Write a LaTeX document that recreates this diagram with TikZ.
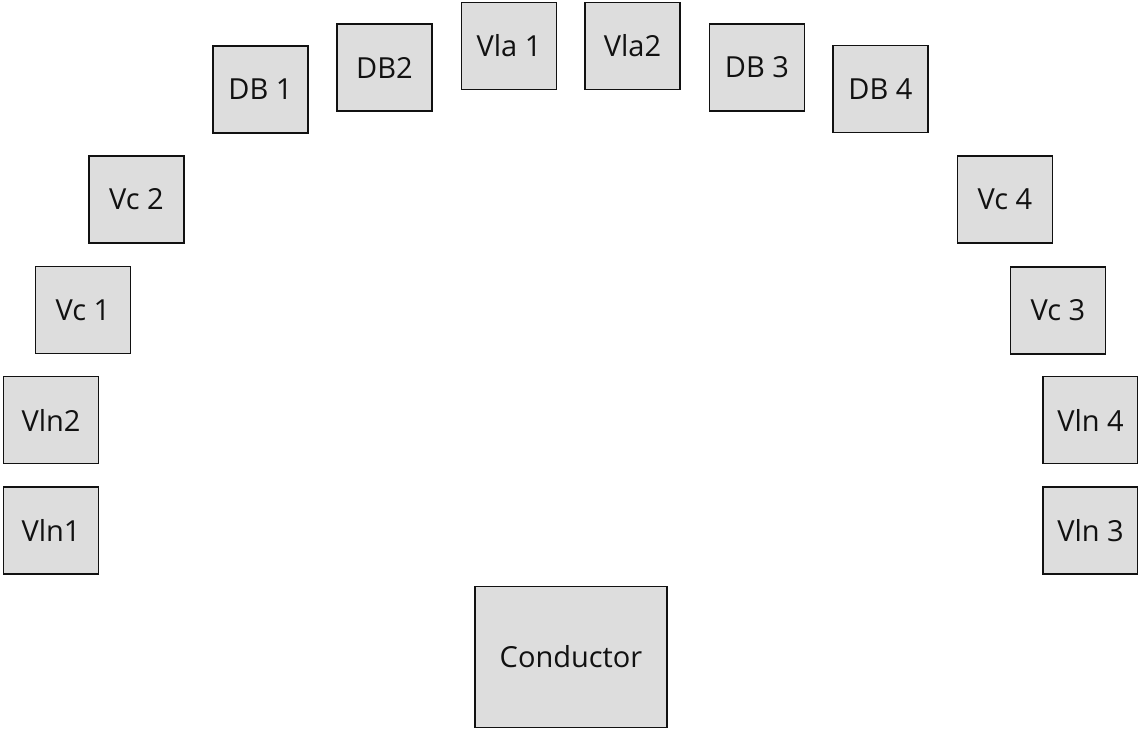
\documentclass[tikz,border=0pt]{standalone}
\usepackage{fontspec}
\setmainfont{Open Sans}
\definecolor{standfill}{HTML}{DDDDDD}
\definecolor{standline}{HTML}{111111}
\tikzset{
  stand/.style={draw=standline, fill=standfill, line width=1.6pt,
    minimum width=95pt, minimum height=87pt, inner sep=0pt,
    font=\fontsize{29}{33}\selectfont, text=standline},
  podium/.style={stand, minimum width=192pt, minimum height=141pt}
}
\begin{document}
\begin{tikzpicture}[x=1pt, y=-1pt]
  \useasboundingbox (0,0) rectangle (1138,731);
  % upper arc of the orchestra
  \node[stand] (db1)  at (260.5, 89.5) {DB 1};
  \node[stand] (db2)  at (384.5, 67.5) {DB2};
  \node[stand] (vla1) at (509, 46)     {Vla 1};
  \node[stand] (vla2) at (632.5, 46)   {Vla2};
  \node[stand] (db3)  at (757, 67.5)   {DB 3};
  \node[stand] (db4)  at (880.5, 89)   {DB 4};
  % left side
  \node[stand] (vc2)  at (136.5, 199.5) {Vc 2};
  \node[stand] (vc1)  at (83, 310)      {Vc 1};
  \node[stand] (vln2) at (51, 420)      {Vln2};
  \node[stand] (vln1) at (51, 530.5)    {Vln1};
  % right side
  \node[stand] (vc4)  at (1005, 199.5)  {Vc 4};
  \node[stand] (vc3)  at (1058, 310.5)  {Vc 3};
  \node[stand] (vln4) at (1090.5, 420)  {Vln 4};
  \node[stand] (vln3) at (1090.5, 530.5){Vln 3};
  % conductor's podium
  \node[podium] (cond) at (571, 657) {Conductor};
\end{tikzpicture}
\end{document}
